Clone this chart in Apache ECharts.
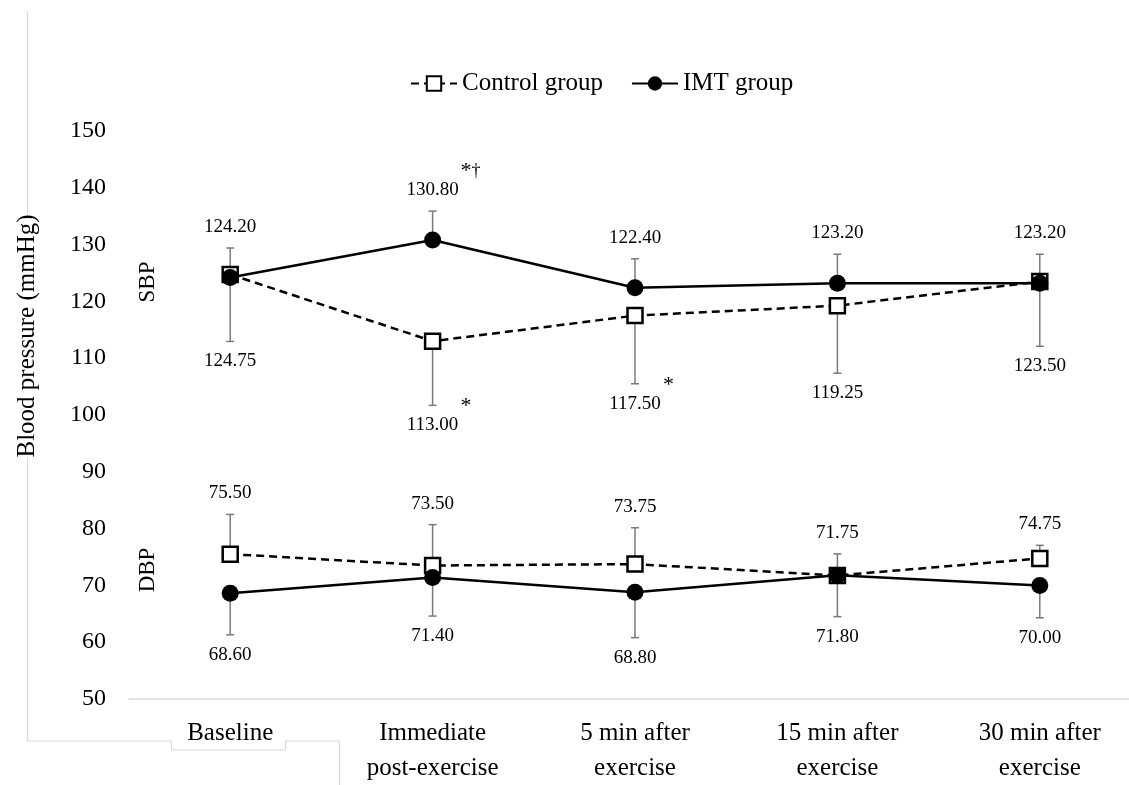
<!DOCTYPE html>
<html>
<head>
<meta charset="utf-8">
<script src="https://cdn.jsdelivr.net/npm/echarts@6/dist/echarts.min.js"></script>
<style>
  html, body { margin: 0; padding: 0; background: #fff; }
  #chart { width: 1129px; height: 785px; }
</style>
</head>
<body>
<div id="chart"></div>
<script>
var myChart = echarts.init(document.getElementById('chart'));

// data
var categories = ['Baseline', 'Immediate\npost-exercise', '5 min after\nexercise', '15 min after\nexercise', '30 min after\nexercise'];
var yTicks = [50, 60, 70, 80, 90, 100, 110, 120, 130, 140, 150];

var sbpControl = [124.75, 113.00, 117.50, 119.25, 123.50];
var sbpControlSd = [11.8, 11.3, 12.0, 11.9, 11.4];
var sbpImt = [124.20, 130.80, 122.40, 123.20, 123.20];
var sbpImtSd = [5.2, 5.1, 5.1, 5.1, 5.1];

var dbpControl = [75.50, 73.50, 73.75, 71.75, 74.75];
var dbpControlSd = [7.0, 7.2, 6.4, 3.8, 2.3];
var dbpImt = [68.60, 71.40, 68.80, 71.80, 70.00];
var dbpImtSd = [7.3, 6.8, 8.0, 7.3, 5.7];

// significance marks
var sbpControlMarks = ['', '*', '*', '', ''];
var sbpImtMarks = ['', '*†', '', '', ''];

var FONT = '"Liberation Serif", "Times New Roman", serif';

// error bar + value label, dir = 1 (up) or -1 (down)
function errorSeries(means, sds, dir, marks) {
    return {
        type: 'custom',
        silent: true,
        z: 1,
        encode: { x: 0, y: 1 },
        data: means.map(function (m, i) { return [i, m, sds[i]]; }),
        renderItem: function (params, api) {
            var i = api.value(0), m = api.value(1), sd = api.value(2);
            var p0 = api.coord([i, m]);
            var p1 = api.coord([i, m + dir * sd]);
            var lineStyle = { stroke: '#7a7a7a', lineWidth: 1.5 };
            var ly = p1[1] + (dir > 0 ? -21 : 20);
            var children = [
                { type: 'line', shape: { x1: p0[0], y1: p0[1], x2: p1[0], y2: p1[1] }, style: lineStyle },
                { type: 'line', shape: { x1: p1[0] - 4, y1: p1[1], x2: p1[0] + 4, y2: p1[1] }, style: lineStyle },
                {
                    type: 'text', x: p0[0], y: ly,
                    style: { text: m.toFixed(2), align: 'center', verticalAlign: 'middle', fontSize: 19, fontFamily: FONT, fill: '#000' }
                }
            ];
            var mark = marks ? marks[params.dataIndex] : '';
            if (mark) {
                children.push({
                    type: 'text', x: p0[0] + 28, y: ly - 19,
                    style: {
                        text: '{a|' + mark.charAt(0) + '}' + (mark.length > 1 ? '{d|' + mark.slice(1) + '}' : ''),
                        align: 'left', verticalAlign: 'middle',
                        rich: {
                            a: { fontSize: 22, fontFamily: FONT, fill: '#000' },
                            d: { fontSize: 18, fontFamily: FONT, fill: '#000' }
                        }
                    }
                });
            }
            return { type: 'group', children: children };
        }
    };
}

function controlLine(values) {
    return {
        name: 'Control group',
        type: 'line',
        z: 3,
        data: values,
        symbol: 'rect',
        symbolSize: 15,
        itemStyle: { color: '#fff', borderColor: '#000', borderWidth: 2.5 },
        lineStyle: { color: '#000', width: 2.5, type: [8, 5] },
        emphasis: { disabled: true }
    };
}

function imtLine(values) {
    return {
        name: 'IMT group',
        type: 'line',
        z: 4,
        data: values,
        symbol: 'circle',
        symbolSize: 17,
        itemStyle: { color: '#000' },
        lineStyle: { color: '#000', width: 2.5 },
        emphasis: { disabled: true }
    };
}

var option = {
    animation: false,
    backgroundColor: '#fff',
    textStyle: { fontFamily: FONT },
    legend: {
        data: ['Control group', 'IMT group'],
        left: 405,
        top: 66,
        itemWidth: 46,
        itemHeight: 18,
        itemGap: 28,
        textStyle: { fontSize: 25, fontFamily: FONT, color: '#000' }
    },
    grid: {
        left: 129,
        right: -12,
        top: 131,
        bottom: 86,
        outerBoundsMode: 'none'
    },
    xAxis: {
        type: 'category',
        data: categories,
        boundaryGap: true,
        axisLine: { lineStyle: { color: '#d9d9d9', width: 1.5 } },
        axisTick: { show: false },
        axisLabel: { fontSize: 25, lineHeight: 35, margin: 17, color: '#000', fontFamily: FONT, interval: 0 }
    },
    yAxis: {
        type: 'value',
        min: yTicks[0],
        max: yTicks[yTicks.length - 1],
        interval: 10,
        axisLine: { show: false },
        axisTick: { show: false },
        splitLine: { show: false },
        axisLabel: { fontSize: 24, color: '#000', fontFamily: FONT, margin: 23 }
    },
    graphic: [
        {
            type: 'polyline', z: -1, silent: true,
            shape: { points: [[27.5, 11], [27.5, 741], [171.5, 741], [171.5, 750], [285.5, 750], [285.5, 741], [339.5, 741], [339.5, 785]] },
            style: { stroke: '#d9d9d9', lineWidth: 1.2, fill: null }
        },
        {
            type: 'text', x: 27, y: 336, rotation: Math.PI / 2,
            style: { text: 'Blood pressure (mmHg)', align: 'center', verticalAlign: 'middle', fontSize: 25, fontFamily: FONT, fill: '#000', backgroundColor: '#fff' }
        },
        {
            type: 'text', x: 148, y: 282, rotation: Math.PI / 2,
            style: { text: 'SBP', align: 'center', verticalAlign: 'middle', fontSize: 23, fontFamily: FONT, fill: '#000' }
        },
        {
            type: 'text', x: 148, y: 570, rotation: Math.PI / 2,
            style: { text: 'DBP', align: 'center', verticalAlign: 'middle', fontSize: 23, fontFamily: FONT, fill: '#000' }
        }
    ],
    series: [
        errorSeries(sbpControl, sbpControlSd, -1, sbpControlMarks),
        errorSeries(sbpImt, sbpImtSd, 1, sbpImtMarks),
        errorSeries(dbpControl, dbpControlSd, 1, null),
        errorSeries(dbpImt, dbpImtSd, -1, null),
        controlLine(sbpControl),
        controlLine(dbpControl),
        imtLine(sbpImt),
        imtLine(dbpImt)
    ]
};

myChart.setOption(option);
</script>
</body>
</html>
